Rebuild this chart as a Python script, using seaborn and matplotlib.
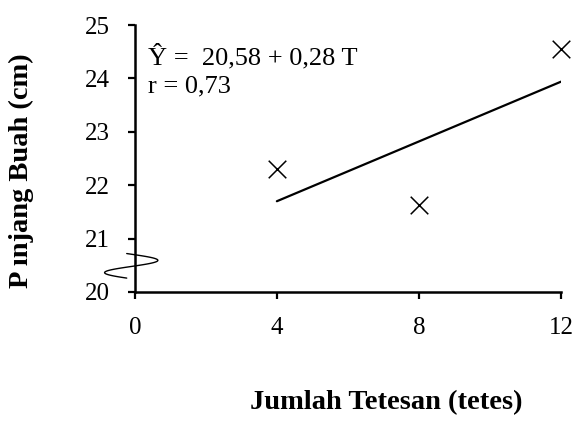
import numpy as np
import pandas as pd
import matplotlib
matplotlib.use("Agg")
import matplotlib.pyplot as plt
import seaborn as sns

# data
dose = [4, 8, 12]
length = [22.30, 21.63, 24.55]
fit_x = [4, 12]
fit_y = [21.70, 23.94]
x_ticks = [0, 4, 8, 12]
y_ticks = [20, 21, 22, 23, 24, 25]
eq_text = "Ŷ =  20,58 + 0,28 T"
r_text = "r = 0,73"
x_label = "Jumlah Tetesan (tetes)"
y_label = "P ınjang Buah (cm)"

sns.set_style("white")
plt.rcParams['font.family'] = ['Liberation Serif', 'DejaVu Serif']
plt.rcParams['text.color'] = 'black'
plt.rcParams['axes.labelcolor'] = 'black'

fig = plt.figure(figsize=(5.76, 4.25), dpi=100)
ax = fig.add_axes([0.234, 0.313, 0.740, 0.628])

pts = pd.DataFrame({"x": dose, "y": length})
fit = pd.DataFrame({"x": fit_x, "y": fit_y})

sns.lineplot(data=fit, x="x", y="y", ax=ax, color="black", linewidth=1.6)
sns.scatterplot(data=pts, x="x", y="y", ax=ax, marker="x", color="black",
                s=160, linewidth=1.1, zorder=3, clip_on=False)

ax.set_xlim(0, 12)
ax.set_ylim(20, 25)
ax.set_xticks(x_ticks)
ax.set_yticks(y_ticks)
ax.tick_params(axis="both", direction="out", length=5, width=1.6, colors="black",
               labelsize=18, bottom=True, left=True)
ax.tick_params(axis="x", pad=13)
ax.tick_params(axis="y", pad=13)
for s in ["top", "right"]:
    ax.spines[s].set_visible(False)
for s in ["left", "bottom"]:
    ax.spines[s].set_linewidth(1.8)
    ax.spines[s].set_color("black")

ax.set_xlabel(x_label, fontsize=20.5, fontweight="bold", color="black")
ax.set_ylabel(y_label, fontsize=20.5, fontweight="bold", color="black")
ax.xaxis.set_label_coords(0.589, -0.368)
ax.yaxis.set_label_coords(-0.236, 0.453)

ax.text(0.37, 24.27, eq_text, fontsize=19, va="baseline", ha="left", color="black")
ax.text(0.37, 23.745, r_text, fontsize=19, va="baseline", ha="left", color="black")

# axis break squiggle
t = np.linspace(0, 1, 100)
bx = -0.1 + 0.75 * np.sin(2 * np.pi * t - 0.17)
by = 20.72 - 0.46 * t
ax.plot(bx, by, color="black", linewidth=1.0, clip_on=False)

fig.savefig("out.png", dpi=100)
